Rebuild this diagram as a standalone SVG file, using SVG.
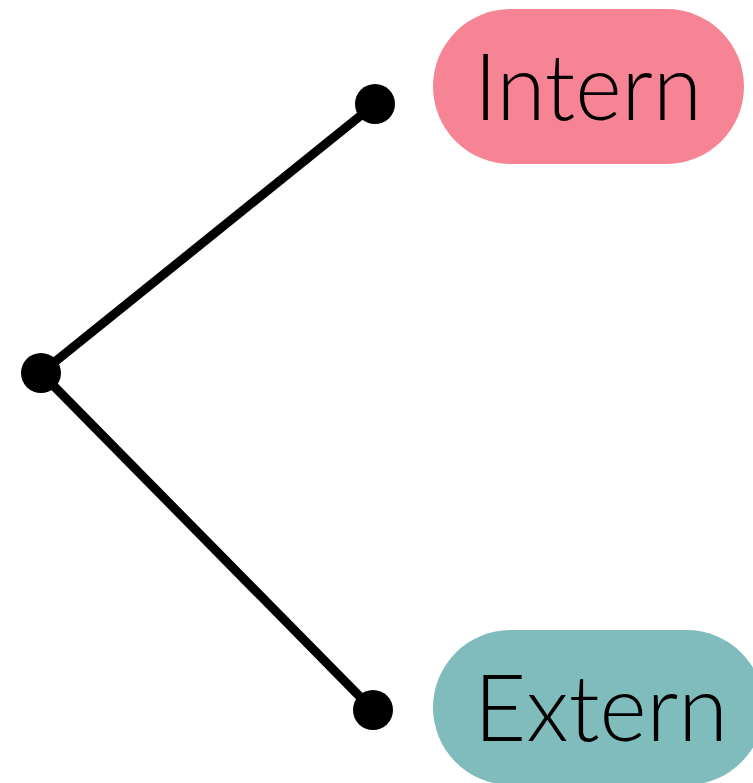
<svg xmlns="http://www.w3.org/2000/svg" width="753" height="783" viewBox="0 0 753 783">
  <style>
    .edge { stroke: #000; stroke-width: 9; fill: none; }
    .dot { fill: #000; }
    .label { font-family: "Lato", "Liberation Sans", sans-serif; font-size: 92px; font-weight: 300; fill: #000; }
  </style>
  <rect width="753" height="783" fill="#fff"/>
  <g id="connectors">
    <line class="edge" x1="41" y1="373" x2="375" y2="104"/>
    <line class="edge" x1="41" y1="373" x2="373" y2="710"/>
  </g>
  <g id="root">
    <circle class="dot" cx="41" cy="373" r="20"/>
  </g>
  <g id="intern">
    <circle class="dot" cx="375" cy="104" r="20"/>
    <rect x="433" y="9" width="311" height="155" rx="77.5" fill="#F78495"/>
    <text class="label" x="474" y="120" textLength="228" lengthAdjust="spacingAndGlyphs">Intern</text>
  </g>
  <g id="extern">
    <circle class="dot" cx="373" cy="710" r="20"/>
    <rect x="433" y="630" width="331" height="155" rx="77.5" fill="#7FBCBB"/>
    <text class="label" x="474" y="741" textLength="254" lengthAdjust="spacingAndGlyphs">Extern</text>
  </g>
</svg>
